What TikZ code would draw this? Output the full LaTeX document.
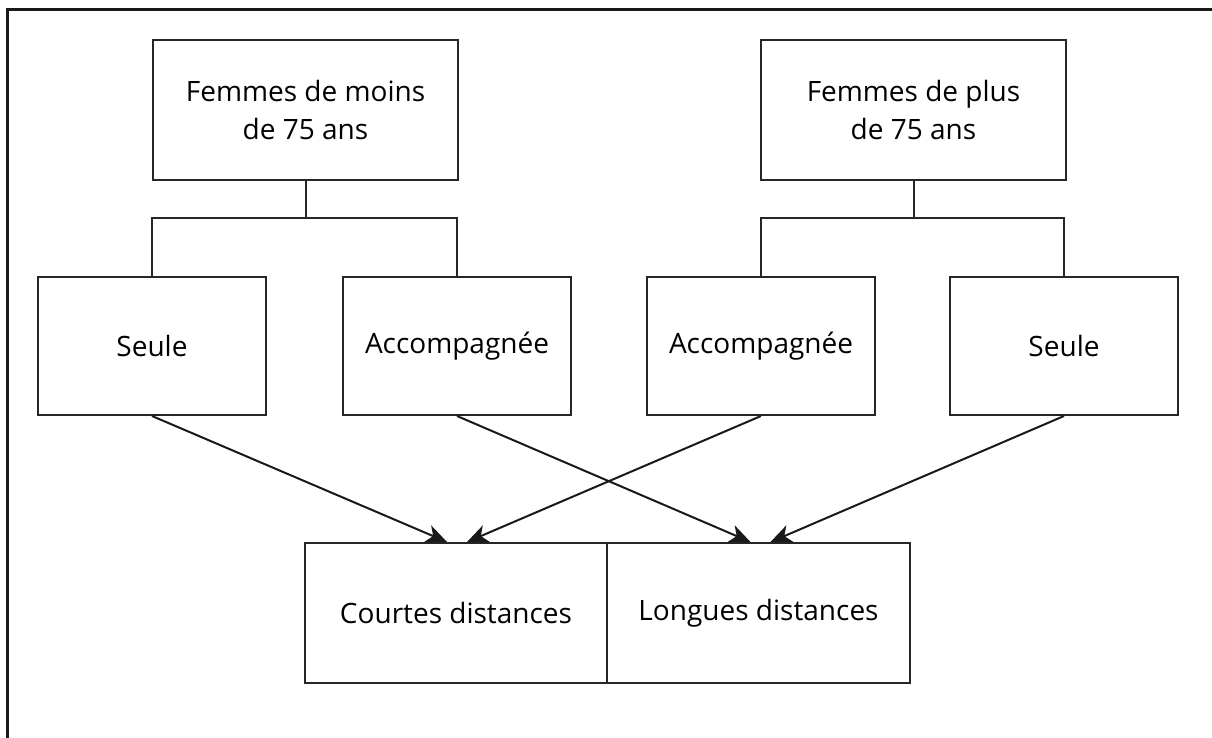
\documentclass[tikz,border=0pt]{standalone}
\usepackage{fontspec}
\setmainfont{Open Sans}
\usetikzlibrary{arrows.meta}
\tikzset{
  box/.style={draw=black!85, line width=2pt, rectangle, inner sep=0pt, align=center,
    font=\fontsize{28}{38}\selectfont, text=black},
  topbox/.style={box, minimum width=305pt, minimum height=140pt},
  midbox/.style={box, minimum width=228pt, minimum height=138pt},
  botbox/.style={box, minimum width=302pt, minimum height=140pt},
  link/.style={draw=black!85, line width=2pt},
  arr/.style={draw=black!90, line width=2pt, -{Stealth[length=21pt,width=18pt,inset=6pt]}}
}
\begin{document}
\begin{tikzpicture}[x=1pt,y=-1pt]
\useasboundingbox (0,0) rectangle (1212,738);
% outer frame (top and left only)
\draw[line width=3.5pt, black!90] (7.5,738) -- (7.5,9.5) -- (1212,9.5);

\node[topbox] (t1) at (305.5,110) {Femmes de moins\\de 75 ans};
\node[topbox] (t2) at (913.5,110) {Femmes de plus\\de 75 ans};

\node[midbox] (s1) at (152,346) {Seule};
\node[midbox] (a1) at (457,346) {Accompagnée};
\node[midbox] (a2) at (761,346) {Accompagnée};
\node[midbox] (s2) at (1064,346) {Seule};

\node[botbox] (c) at (456,613) {Courtes distances};
\node[botbox, minimum width=303pt] (l) at (758.5,613) {Longues distances};

\coordinate (j1) at (305.5,218);
\coordinate (j2) at (913.5,218);
\draw[link] (t1.south) -- (j1);
\draw[link] (s1.north) |- (j1) -| (a1.north);
\draw[link] (t2.south) -- (j2);
\draw[link] (a2.north) |- (j2) -| (s2.north);

\draw[arr] (s1.south) -- ([xshift=-9pt]c.north);
\draw[arr] (a2.south) -- ([xshift=11pt]c.north);
\draw[arr] (a1.south) -- ([xshift=-8pt]l.north);
\draw[arr] (s2.south) -- ([xshift=12pt]l.north);
\end{tikzpicture}
\end{document}
